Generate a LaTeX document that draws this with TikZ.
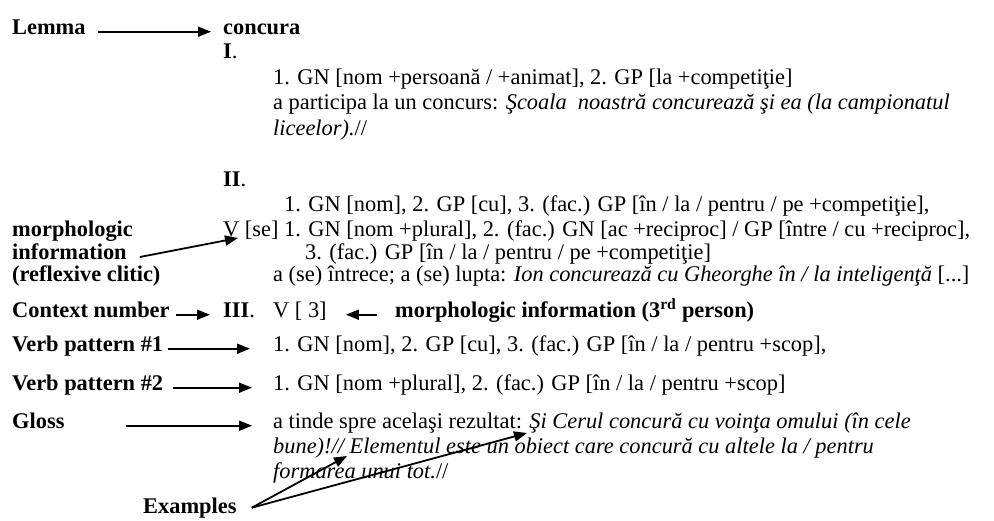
\documentclass[tikz,border=0pt]{standalone}
\usepackage{fontspec}
\setmainfont{Liberation Serif}
\usetikzlibrary{arrows.meta}

\begin{document}
\begin{tikzpicture}[x=1pt,y=-1pt,every node/.style={font=\fontsize{22.4}{26}\selectfont},
  txt/.style={anchor=base west,inner sep=0pt},
  lab/.style={txt,font=\fontsize{22.4}{26}\selectfont\bfseries},
  arr/.style={-{Triangle[length=13pt,width=10pt]},line width=1.8pt}]
  \useasboundingbox (0,0) rectangle (994,520);
  \node[lab] (l1) at (12,34) {Lemma};
  \node[lab] (t1) at (223,34) {concura};
  \node[txt] (t2) at (223,58) {\textbf{I}.};
  \node[txt] (t3) at (273,84) {1. GN [nom +persoană / +animat], 2. GP [la +competiţie]};
  \node[txt] (t4) at (273,109) {a participa la un concurs: \textit{Şcoala\ \ noastră concurează şi ea (la campionatul}};
  \node[txt] (t5) at (273,135) {\textit{liceelor).}//};

  \node[txt] (t6) at (223,186) {\textbf{II}.};
  \node[txt] (t7) at (284,211) {1. GN [nom], 2. GP [cu], 3. (fac.) GP [în / la / pentru / pe +competiţie],};
  \node[lab] (l2) at (12,236) {morphologic};
  \node[txt] (t8) at (223,236) {V [se] 1. GN [nom +plural], 2. (fac.) GN [ac +reciproc] / GP [între / cu +reciproc],};
  \node[lab] (l3) at (12,259) {information};
  \node[txt] (t9) at (305,259) {3. (fac.) GP [în / la / pentru / pe +competiţie]};
  \node[lab] (l4) at (12,281) {(reflexive clitic)};
  \node[txt] (t10) at (273,281) {a (se) întrece; a (se) lupta: \textit{Ion concurează cu Gheorghe în / la inteligenţă} [...]};

  \node[lab] (l5) at (12,317) {Context number};
  \node[txt] (t11) at (223,317) {\textbf{III}.};
  \node[txt] (t12) at (273,317) {V [ 3]};
  \node[lab] (t13) at (395,317) {morphologic information (3\textsuperscript{rd} person)};
  \node[lab] (l6) at (12,351) {Verb pattern \#1};
  \node[txt] (t14) at (273,351) {1. GN [nom], 2. GP [cu], 3. (fac.) GP [în / la / pentru +scop],};
  \node[lab] (l7) at (12,390) {Verb pattern \#2};
  \node[txt] (t15) at (273,390) {1. GN [nom +plural], 2. (fac.) GP [în / la / pentru +scop]};
  \node[lab] (l8) at (12,428) {Gloss};
  \node[txt] (t16) at (273,428) {a tinde spre acelaşi rezultat: \textit{Şi Cerul concură cu voinţa omului (în cele}};
  \node[txt] (t17) at (273,453) {\textit{bune)!// Elementul este un obiect care concură cu altele la / pentru}};
  \node[txt] (t18) at (273,478) {\textit{formarea unui tot.}//};
  \node[lab] (l9) at (143,513) {Examples};

  \draw[arr,shorten <=12pt,shorten >=12pt] (l1.mid east) -- (t1.mid west);
  \draw[arr] ([shift={(13pt,2pt)}]l3.base east) -- ([shift={(15pt,-2pt)}]t8.base west);
  \draw[arr,shorten <=6pt,shorten >=13pt] (l5.mid east) -- (t11.mid west);
  \draw[arr,shorten <=18pt,shorten >=19pt] (t13.mid west) -- (t12.mid east);
  \draw[arr,shorten <=5pt,shorten >=23pt] (l6.mid east) -- (t14.mid west);
  \draw[arr,shorten <=10pt,shorten >=21pt] (l7.mid east) -- (t15.mid west);
  \draw[arr,shorten <=61pt,shorten >=21pt] (l8.mid east) -- (t16.mid west);
  \coordinate (e0) at ([shift={(15pt,3pt)}]l9.mid east);
  \coordinate (e1) at (347,456);
  \coordinate (e2) at (527,433);
  \draw[arr] (e0) -- (e1);
  \draw[arr] (e0) -- (e2);
\end{tikzpicture}
\end{document}
